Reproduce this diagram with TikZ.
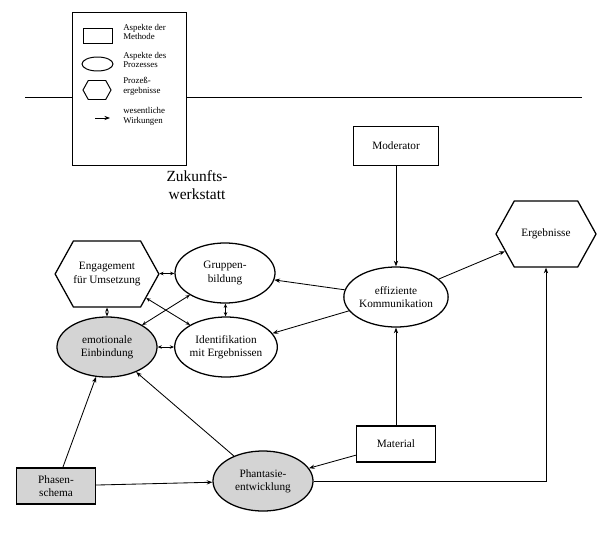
\documentclass[tikz,border=0pt]{standalone}
\usepackage{fontspec}
\setmainfont{Liberation Serif}
\usetikzlibrary{arrows.meta,positioning,shapes.geometric,shapes.symbols}

\begin{document}
\begin{tikzpicture}[
    x=0.025cm, y=-0.025cm,
    methode/.style={rectangle, draw, line width=0.9pt, minimum width=1.975cm, minimum height=0.9cm, align=center, font=\footnotesize},
    prozess/.style={ellipse, draw, line width=0.9pt, minimum width=2.5cm, minimum height=1.5cm, inner sep=0pt, align=center, font=\footnotesize},
    grauprozess/.style={prozess, fill=black!17},
    ergebnis/.style={signal, signal to=east and west, signal pointer angle=122, draw, line width=0.9pt, minimum width=2.5cm, minimum height=1.65cm, inner sep=0pt, align=center, font=\footnotesize},
    arrow/.style={-{Stealth[length=4pt,width=3pt]}, line width=0.6pt},
    dblarrow/.style={{Stealth[length=3pt,width=2.5pt]}-{Stealth[length=3pt,width=2.5pt]}, line width=0.6pt},
    legendtext/.style={anchor=west, align=left, inner sep=0pt, font=\fontsize{6.3}{7}\selectfont},
    title/.style={align=center, font=\fontsize{11}{12.5}\selectfont}
]
\useasboundingbox (0,0) rectangle (610,532);

% Legende
\node[draw, line width=0.7pt, minimum width=2.825cm, minimum height=3.8cm] (legende) at (129.5,89) {};
\node[draw, line width=0.7pt, minimum width=0.725cm, minimum height=0.375cm, inner sep=0pt] (lmeth) at (97.5,35.5) {};
\node[draw, ellipse, line width=0.7pt, minimum width=0.775cm, minimum height=0.35cm, inner sep=0pt] (lproz) at (97.5,64) {};
\node[draw, signal, signal to=east and west, signal pointer angle=122, line width=0.7pt, minimum width=0.7cm, minimum height=0.475cm, inner sep=0pt] (lerg) at (97,90) {};
\coordinate (lpfeil1) at (95,118);
\coordinate (lpfeil2) at (110,118);
\draw[arrow] (lpfeil1) -- (lpfeil2);
\node[legendtext] (lt1) at (123,32) {Aspekte der\\Methode};
\node[legendtext] (lt2) at (123,60) {Aspekte des\\Prozesses};
\node[legendtext] (lt3) at (123,86) {Prozeß-\\ergebnisse};
\node[legendtext] (lt4) at (123,116) {wesentliche\\Wirkungen};

% Trennlinie
\coordinate (hl1) at (25,97);
\coordinate (hl2) at (582,97);
\draw[line width=0.7pt] (hl1) -- (hl1 -| legende.west);
\draw[line width=0.7pt] (legende.east |- hl2) -- (hl2);

\node[title] (zw) at (197,185) {Zukunfts-\\werkstatt};

% Knoten
\node[ergebnis] (engagement) at (107,274) {Engagement\\für Umsetzung};
\node[prozess] (gruppen) at (225,273) {Gruppen-\\bildung};
\node[grauprozess] (emotional) at (107,347) {emotionale\\Einbindung};
\node[prozess] (ident) at (226,347) {Identifikation\\mit Ergebnissen};
\node[prozess] (komm) at (396,297) {effiziente\\Kommunikation};
\node[methode, minimum width=2.125cm, minimum height=0.975cm] (moderator) at (396,146) {Moderator};
\node[ergebnis] (ergebnisse) at (546,234) {Ergebnisse};
\node[methode, fill=black!17] (phasen) at (56,486) {Phasen-\\schema};
\node[grauprozess] (phantasie) at (263,481) {Phantasie-\\entwicklung};
\node[methode] (material) at (396,444) {Material};

% Wirkungen
\draw[dblarrow] (engagement) -- (gruppen);
\draw[dblarrow] (engagement) -- (emotional);
\draw[dblarrow] (engagement) -- (ident);
\draw[dblarrow] (emotional) -- (gruppen);
\draw[dblarrow] (emotional) -- (ident);
\draw[dblarrow] (gruppen) -- (ident);
\draw[arrow] (komm) -- (gruppen);
\draw[arrow] (komm) -- (ident);
\draw[arrow] (moderator) -- (komm);
\draw[arrow] (komm) -- (ergebnisse);
\draw[arrow] (material) -- (komm);
\draw[arrow] (material) -- (phantasie);
\draw[arrow] (phasen) -- (emotional);
\draw[arrow] (phasen) -- (phantasie);
\draw[arrow] (phantasie) -- (emotional);
\draw[arrow] (phantasie.east) -| (ergebnisse.south);

\end{tikzpicture}
\end{document}
